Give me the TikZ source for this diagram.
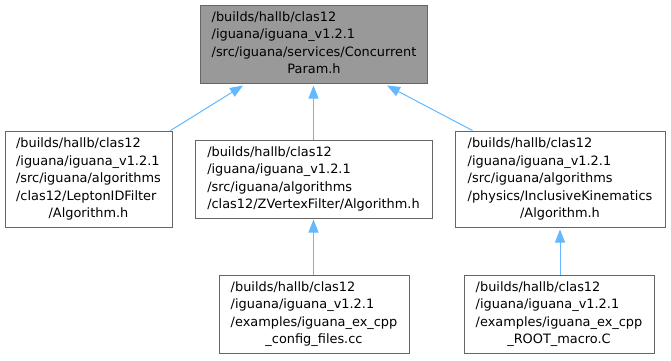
\documentclass[tikz,border=0pt]{standalone}
\usepackage{fontspec}
\setmainfont{DejaVu Sans}
\usetikzlibrary{arrows.meta}
\definecolor{edgeblue}{HTML}{63B8FF}
\definecolor{boxborder}{HTML}{666666}
\definecolor{topfill}{HTML}{999999}
\newcommand{\lastc}[1]{\multicolumn{1}{@{}c@{}}{#1}}
\tikzset{
  box/.style={draw=boxborder, line width=1pt, fill=white, inner sep=0pt,
    font=\fontsize{12.9}{17.5}\selectfont, anchor=center},
  topbox/.style={box, fill=topfill},
  edge/.style={draw=edgeblue, line width=1pt, {Triangle[length=13pt,width=10pt]}-}
}
\begin{document}
\begin{tikzpicture}[x=1pt,y=-1pt]
\useasboundingbox (0,0) rectangle (671,360);
\node[topbox, minimum width=227pt, minimum height=78pt] (T) at (314,44)
  {\begin{tabular}{@{}l@{}}/builds/hallb/clas12\\/iguana/iguana\_v1.2.1\\/src/iguana/services/Concurrent\\\lastc{Param.h}\end{tabular}};
\node[box, minimum width=167pt, minimum height=96pt] (L) at (88.5,179)
  {\begin{tabular}{@{}l@{}}/builds/hallb/clas12\\/iguana/iguana\_v1.2.1\\/src/iguana/algorithms\\/clas12/LeptonIDFilter\\\lastc{/Algorithm.h}\end{tabular}};
\node[box, minimum width=237pt, minimum height=78pt] (M) at (313.5,179)
  {\begin{tabular}{@{}l@{}}/builds/hallb/clas12\\/iguana/iguana\_v1.2.1\\/src/iguana/algorithms\\/clas12/ZVertexFilter/Algorithm.h\end{tabular}};
\node[box, minimum width=210pt, minimum height=96pt] (R) at (560,179)
  {\begin{tabular}{@{}l@{}}/builds/hallb/clas12\\/iguana/iguana\_v1.2.1\\/src/iguana/algorithms\\/physics/InclusiveKinematics\\\lastc{/Algorithm.h}\end{tabular}};
\node[box, minimum width=190pt, minimum height=78pt] (BM) at (314,314)
  {\begin{tabular}{@{}l@{}}/builds/hallb/clas12\\/iguana/iguana\_v1.2.1\\/examples/iguana\_ex\_cpp\\\lastc{\_config\_files.cc}\end{tabular}};
\node[box, minimum width=190pt, minimum height=78pt] (BR) at (559,314)
  {\begin{tabular}{@{}l@{}}/builds/hallb/clas12\\/iguana/iguana\_v1.2.1\\/examples/iguana\_ex\_cpp\\\lastc{\_ROOT\_macro.C}\end{tabular}};
\draw[edge] ([xshift=43pt,yshift=-2pt]T.south west) -- ([xshift=-2pt]L.north east);
\draw[edge] ([xshift=-0.5pt,yshift=-2pt]T.south) -- ([yshift=0pt]M.north);
\draw[edge] ([xshift=-41pt,yshift=-2pt]T.south east) -- ([xshift=18pt]R.north west);
\draw[edge] ([yshift=-1pt]M.south) -- ([xshift=-0.5pt]BM.north);
\draw[edge] ([yshift=-2pt]R.south) -- (BR.north -| R.south);
\end{tikzpicture}
\end{document}
